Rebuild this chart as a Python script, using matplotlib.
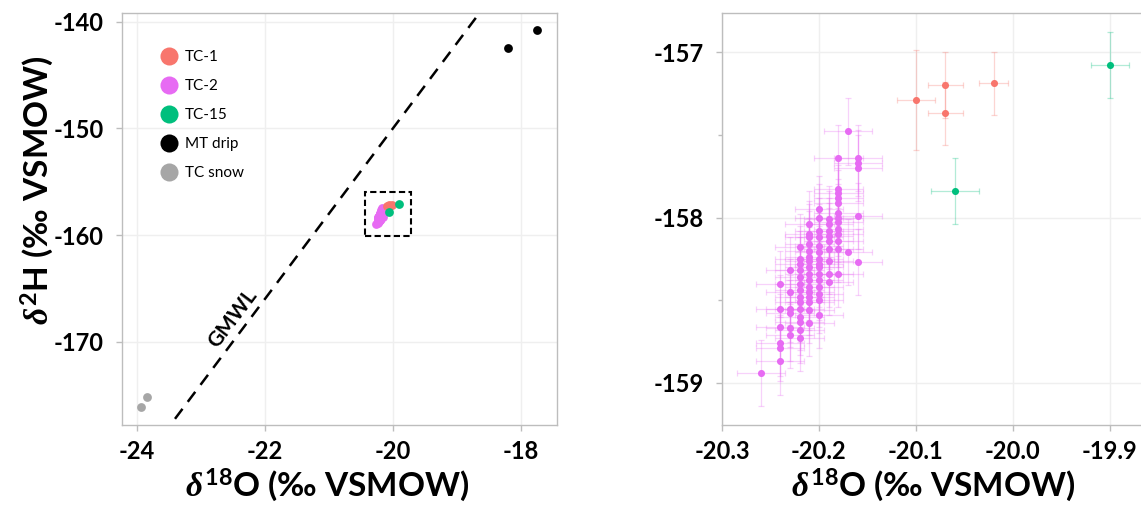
"""
stable isotope plot: overview (left) + zoomed cluster (right)
"""

import numpy as np
import matplotlib
matplotlib.use("Agg")
import matplotlib.pyplot as plt
from matplotlib.lines import Line2D
from matplotlib.patches import Rectangle, ConnectionPatch

plt.rcParams["font.family"] = ["Lato", "DejaVu Sans"]
plt.rcParams["font.weight"] = "bold"
plt.rcParams["axes.unicode_minus"] = False
plt.rcParams["mathtext.fontset"] = "custom"
plt.rcParams["mathtext.rm"] = "Lato:bold"
plt.rcParams["mathtext.bf"] = "Lato:bold"
plt.rcParams["mathtext.it"] = "Liberation Serif:italic"

# ---- data ----
tc1_d18o = [-20.10, -20.07, -20.07, -20.02]
tc1_d2h  = [-157.29, -157.20, -157.37, -157.19]
tc1_xerr = [0.020, 0.018, 0.018, 0.015]
tc1_yerr = [0.30, 0.20, 0.19, 0.19]

tc15_d18o = [-20.06, -19.90]
tc15_d2h  = [-157.84, -157.08]
tc15_xerr = [0.025, 0.020]
tc15_yerr = [0.20, 0.20]

# TC-2: d18O columns and the d2H values read in each column
tc2_cols = [-20.26, -20.24, -20.23, -20.22, -20.21, -20.20, -20.19, -20.18, -20.17, -20.16]
tc2_d2h_cols = [
    [-158.94],
    [-158.40, -158.55, -158.66, -158.76, -158.79, -158.87],
    [-158.32, -158.45, -158.55, -158.58, -158.67, -158.71],
    [-158.18, -158.25, -158.28, -158.32, -158.36, -158.40, -158.44, -158.48,
     -158.51, -158.55, -158.60, -158.63, -158.68, -158.73],
    [-158.04, -158.10, -158.12, -158.16, -158.20, -158.24, -158.26, -158.30,
     -158.34, -158.38, -158.42, -158.45, -158.48, -158.51, -158.56, -158.64],
    [-157.95, -158.00, -158.08, -158.12, -158.17, -158.21, -158.25, -158.28,
     -158.30, -158.34, -158.38, -158.42, -158.46, -158.50, -158.59],
    [-158.01, -158.04, -158.08, -158.11, -158.14, -158.19, -158.26, -158.34, -158.39],
    [-157.64, -157.83, -157.85, -157.88, -157.91, -157.97, -158.00, -158.03,
     -158.07, -158.10, -158.14, -158.19, -158.34],
    [-157.48, -158.21],
    [-157.64, -157.67, -157.70, -157.99, -158.27],
]
tc2_xerr = 0.025
tc2_yerr = 0.20

mt_d18o = [-18.20, -17.75]
mt_d2h  = [-142.5, -140.8]
snow_d18o = [-23.84, -23.94]
snow_d2h  = [-175.2, -176.1]

GMWL_SLOPE, GMWL_INT = 8.0, 10.0

C_TC1, C_TC2, C_TC15 = "#F8766D", "#E76BF3", "#00BF7D"
C_MT, C_SNOW = "black", "#a6a6a6"
SPINE = "#bdbdbd"
GRID = "#efefef"

tc2_d18o = [c for c, col in zip(tc2_cols, tc2_d2h_cols) for _ in col]
tc2_d2h = [v for col in tc2_d2h_cols for v in col]

W, H = 1141, 514
fig = plt.figure(figsize=(W / 100, H / 100), dpi=100)
ax1 = fig.add_axes([122 / W, 1 - 425 / H, 435 / W, 412 / H])
ax2 = fig.add_axes([722 / W, 1 - 425 / H, (W - 722) / W, 412 / H])


def style(ax):
    for s in ax.spines.values():
        s.set_color(SPINE)
        s.set_linewidth(1.0)
    ax.tick_params(which="both", color=SPINE, length=4, width=1, pad=9,
                   labelsize=17)
    ax.tick_params(axis="x", pad=7)
    ax.tick_params(which="minor", length=3)
    ax.grid(color=GRID, lw=1.0)
    ax.set_axisbelow(True)


xlabel = r"$\delta^{18}$O (‰ VSMOW)"
ylabel = r"$\delta^{2}$H (‰ VSMOW)"
LABEL_FS = 24

# ---- left panel ----
ax1.set_xlim(-24.23, -17.44)
ax1.set_ylim(-177.8, -139.2)
ax1.set_xticks([-24, -22, -20, -18])
ax1.set_yticks([-170, -160, -150, -140])
style(ax1)

gx = np.array([-24.0, -18.0])
ax1.plot(gx, GMWL_SLOPE * gx + GMWL_INT, color="black", lw=1.8,
         dashes=(5, 3.5), zorder=2)
ax1.text(-22.5, -167.8, "GMWL", rotation=53, ha="center", va="center",
         fontsize=15, fontweight="bold", rotation_mode="anchor")

ax1.scatter(snow_d18o, snow_d2h, s=40, color=C_SNOW, lw=0, zorder=3)
ax1.scatter(mt_d18o, mt_d2h, s=40, color=C_MT, lw=0, zorder=3)
ax1.scatter(tc2_d18o, tc2_d2h, s=40, color=C_TC2, lw=0, zorder=3)
ax1.scatter(tc1_d18o, tc1_d2h, s=40, color=C_TC1, lw=0, zorder=3)
ax1.scatter(tc15_d18o, tc15_d2h, s=40, color=C_TC15, lw=0, zorder=3)

box = Rectangle((-20.44, -160.09), 0.72, 4.15, fill=False, color="black",
                lw=1.5, ls=(0, (3, 1.6)), zorder=4)
ax1.add_patch(box)

handles = [Line2D([], [], ls="none", marker="o", ms=13, mew=0, color=c)
           for c in [C_TC1, C_TC2, C_TC15, C_MT, C_SNOW]]
ax1.legend(handles, ["TC-1", "TC-2", "TC-15", "MT drip", "TC snow"],
           loc="upper left", bbox_to_anchor=(0.072, 0.925), frameon=False,
           prop={"size": 11, "weight": "normal"}, labelspacing=0.98,
           handletextpad=0.45, borderaxespad=0, handlelength=1.2)

ax1.set_xlabel(xlabel, fontsize=LABEL_FS, fontweight="bold")
ax1.set_ylabel(ylabel, fontsize=LABEL_FS, fontweight="bold")
ax1.xaxis.set_label_coords((327 - 122) / 435, -(466 - 425) / 412)
ax1.yaxis.set_label_coords((55 - 122) / 435, (425 - 190) / 412)

# ---- right panel ----
ax2.set_xlim(-20.30, -19.868)
ax2.set_ylim(-159.254, -156.764)
ax2.set_xticks([-20.3, -20.2, -20.1, -20.0, -19.9])
ax2.set_xticklabels(["-20.3", "-20.2", "-20.1", "-20.0", "-19.9"])
ax2.set_yticks([-159, -158, -157])
ax2.set_yticks([-158.5, -157.5], minor=True)
style(ax2)
ax2.spines["right"].set_visible(False)

for x, y, xe, ye, c in [(tc2_d18o, tc2_d2h, tc2_xerr, tc2_yerr, C_TC2),
                        (tc1_d18o, tc1_d2h, tc1_xerr, tc1_yerr, C_TC1),
                        (tc15_d18o, tc15_d2h, tc15_xerr, tc15_yerr, C_TC15)]:
    ax2.errorbar(x, y, xerr=xe, yerr=ye, fmt="none", ecolor=c, alpha=0.3,
                 elinewidth=0.9, capsize=2.5, capthick=0.9, zorder=2)
    ax2.scatter(x, y, s=26, color=c, lw=0, zorder=3)

ax2.set_xlabel(xlabel, fontsize=LABEL_FS, fontweight="bold")
ax2.xaxis.set_label_coords((933 - 722) / (W - 722), -(466 - 425) / 412)

# ---- zoom connectors ----
for a, b in [((-19.72, -155.94), (-20.337, -156.79)),
             ((-19.72, -160.09), (-20.322, -159.27))]:
    con = ConnectionPatch(xyA=a, coordsA="data", axesA=ax1,
                          xyB=b, coordsB="data", axesB=ax2,
                          color="black", lw=1.4, ls=(0, (2.5, 1.3)),
                          annotation_clip=False, zorder=5)
    fig.add_artist(con)

fig.savefig("out.png", dpi=100)
